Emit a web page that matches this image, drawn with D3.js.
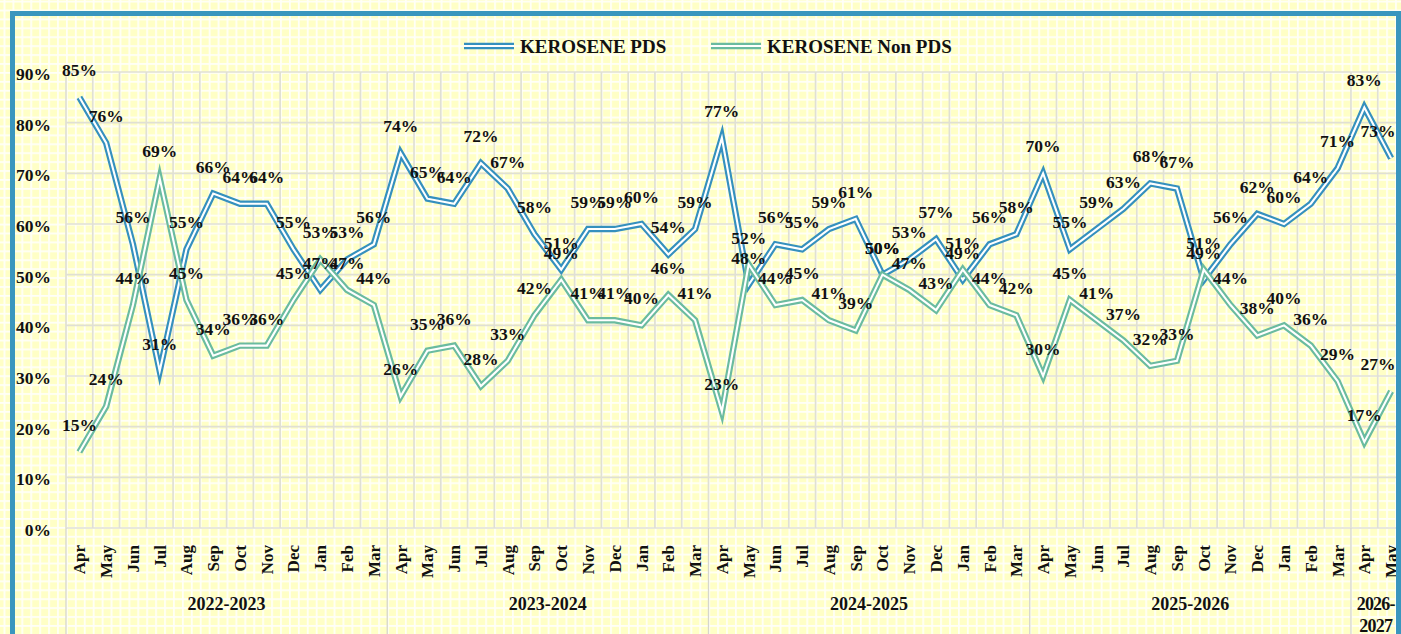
<!DOCTYPE html>
<html>
<head>
<meta charset="utf-8">
<script src="https://cdn.jsdelivr.net/npm/d3@7"></script>
<style>
body { margin: 0; background: #fffff0; }
svg { display: block; }
text { font-family: "Liberation Serif", "Times New Roman", serif; font-weight: bold; fill: #111; }
</style>
</head>
<body>
<svg></svg>
<script>
var monthNames = ["Apr","May","Jun","Jul","Aug","Sep","Oct","Nov","Dec","Jan","Feb","Mar"];
var years = ["2022-2023","2023-2024","2024-2025","2025-2026","2026-2027"];
var monthsPerYear = [12, 12, 12, 12, 2];
var yTicks = [0, 10, 20, 30, 40, 50, 60, 70, 80, 90];
var seriesNames = ["KEROSENE PDS", "KEROSENE Non PDS"];

var pds = [85,76,56,31,55,66,64,64,55,47,53,56,
           74,65,64,72,67,58,51,59,59,60,54,59,
           77,48,56,55,59,61,50,53,57,49,56,58,
           70,55,59,63,68,67,49,56,62,60,64,71,
           83,73];
var nonPds = [15,24,44,69,45,34,36,36,45,53,47,44,
              26,35,36,28,33,42,49,41,41,40,46,41,
              23,52,44,45,41,39,50,47,43,51,44,42,
              30,45,41,37,32,33,51,44,38,40,36,29,
              17,27];

// category list built from the years / months
var categories = [];
years.forEach(function(y, yi) {
  for (var m = 0; m < monthsPerYear[yi]; m++) {
    categories.push({ key: y + "-" + m, month: monthNames[m], year: y });
  }
});

var width = 1401, height = 634;
var colors = ["#3590be", "#6abba0"];
var left = 66, bandW = 26.77;
var svg = d3.select("svg").attr("width", width).attr("height", height);

// background pattern (yellow squares + white grid)
var defs = svg.append("defs");
var pat = defs.append("pattern").attr("id", "bg").attr("width", 8.92).attr("height", 8.92)
  .attr("patternUnits", "userSpaceOnUse").attr("x", left).attr("y", 72);
pat.append("rect").attr("width", 8.92).attr("height", 8.92).attr("fill", "#fffff8");
pat.append("rect").attr("x", 1.8).attr("y", 1.8).attr("width", 7.1).attr("height", 7.1).attr("fill", "#ffffc6");
svg.append("rect").attr("width", width).attr("height", height).attr("fill", "url(#bg)");

var xScale = d3.scaleBand().domain(categories.map(function(d) { return d.key; }))
  .range([left, left + bandW * categories.length]);
var yScale = d3.scaleLinear().domain([0, 90]).range([528, 72]);

// gridlines
var grid = svg.append("g").attr("stroke", "#e0e0d4").attr("stroke-width", 1.7);
grid.selectAll("line.h").data(yTicks).enter().append("line")
  .attr("x1", left).attr("x2", width)
  .attr("y1", function(d) { return yScale(d); }).attr("y2", function(d) { return yScale(d); });
grid.selectAll("line.v").data(categories).enter().append("line")
  .attr("x1", function(d) { return xScale(d.key); }).attr("x2", function(d) { return xScale(d.key); })
  .attr("y1", yScale(90)).attr("y2", yScale(0));

// year group separators under the axis
var groupStart = [];
var acc = 0;
monthsPerYear.forEach(function(n) { groupStart.push(acc); acc += n; });
svg.append("g").attr("stroke", "#d6d6cc").attr("stroke-width", 1.3)
  .selectAll("line").data(groupStart).enter().append("line")
  .attr("x1", function(d) { return xScale(categories[d].key); })
  .attr("x2", function(d) { return xScale(categories[d].key); })
  .attr("y1", yScale(0)).attr("y2", height);

// y axis labels
svg.append("g").selectAll("text").data(yTicks).enter().append("text")
  .attr("x", 51).attr("y", function(d) { return yScale(d) + 2; })
  .attr("dy", "0.35em").attr("text-anchor", "end").attr("font-size", 17.5)
  .text(function(d) { return d + "%"; });

// month labels
svg.append("g").selectAll("text").data(categories).enter().append("text")
  .attr("transform", function(d) {
    return "translate(" + (xScale(d.key) + xScale.bandwidth() / 2) + ",545) rotate(-90)";
  })
  .attr("dy", "0.35em").attr("text-anchor", "end").attr("font-size", 17)
  .text(function(d) { return d.month; });

// year labels
svg.append("g").selectAll("text").data(years).enter().append("text")
  .attr("x", function(d, i) {
    var s = groupStart[i];
    var cx = xScale(categories[s].key) + monthsPerYear[i] * bandW / 2;
    return monthsPerYear[i] < 4 ? cx - 2 : cx;
  })
  .attr("y", 610).attr("text-anchor", "middle").attr("font-size", 18)
  .each(function(d, i) {
    var t = d3.select(this);
    if (monthsPerYear[i] < 4) {
      var parts = d.split("-");
      t.attr("letter-spacing", -0.8);
      t.append("tspan").attr("x", t.attr("x")).text(parts[0] + "-");
      t.append("tspan").attr("x", t.attr("x")).attr("dy", 22).text(parts[1]);
    } else {
      t.text(d);
    }
  });

// double lines
var line = d3.line()
  .x(function(d, i) { return xScale(categories[i].key) + xScale.bandwidth() / 2; })
  .y(function(d) { return yScale(d); });

[pds, nonPds].forEach(function(values, si) {
  var g = svg.append("g").attr("fill", "none")
    .attr("stroke-linejoin", "miter").attr("stroke-miterlimit", 10);
  g.append("path").attr("d", line(values)).attr("stroke", colors[si]).attr("stroke-width", 6.4);
  g.append("path").attr("d", line(values)).attr("stroke", "#ffffff").attr("stroke-width", 2.1);
});

// data labels (kept inside the frame on the right)
var labelRight = 1395;
[pds, nonPds].forEach(function(values) {
  svg.append("g").selectAll("text").data(values).enter().append("text")
    .attr("x", function(d, i) {
      var cx = xScale(categories[i].key) + xScale.bandwidth() / 2;
      return Math.min(cx, labelRight - 17);
    })
    .attr("y", function(d) { return yScale(d) - 21; })
    .attr("text-anchor", "middle").attr("font-size", 17.5)
    .text(function(d) { return d + "%"; });
});

// legend
var legendX = [464, 711];
var legend = svg.append("g").selectAll("g").data(seriesNames).enter().append("g")
  .attr("transform", function(d, i) { return "translate(" + legendX[i] + ",46)"; });
legend.append("line").attr("x1", 0).attr("x2", 50).attr("stroke", function(d, i) { return colors[i]; })
  .attr("stroke-width", 6.4);
legend.append("line").attr("x1", 0).attr("x2", 50).attr("stroke", "#fff").attr("stroke-width", 2.1);
legend.append("text").attr("x", 56).attr("dy", "0.35em").attr("font-size", 19)
  .text(function(d) { return d; });

// outer blue frame
svg.append("rect").attr("x", 12.5).attr("y", 13.5).attr("width", 1386).attr("height", 700)
  .attr("fill", "none").attr("stroke", "#3a96be").attr("stroke-width", 5);
</script>
</body>
</html>
